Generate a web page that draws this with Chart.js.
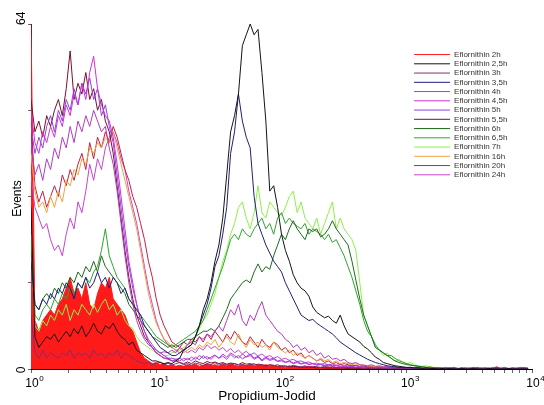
<!DOCTYPE html>
<html>
<head>
<meta charset="utf-8">
<script src="https://cdn.jsdelivr.net/npm/chart.js@4.4.0/dist/chart.umd.min.js"></script>
<style>
  html, body { margin: 0; padding: 0; background: #fff; }
  #wrap { position: relative; width: 544px; height: 405px; }
</style>
</head>
<body>
<div id="wrap"><canvas id="c" width="544" height="405"></canvas></div>
<script>
// Histogram channels (1024-channel log scale, 256 channels per decade), binned by 8
const channels = [
  0,8,16,24,32,40,48,56,64,72,80,88,96,104,112,120,
  128,136,144,152,160,168,176,184,192,200,208,216,224,232,240,248,
  256,264,272,280,288,296,304,312,320,328,336,344,352,360,368,376,
  384,392,400,408,416,424,432,440,448,456,464,472,480,488,496,504,
  512,520,528,536,544,552,560,568,576,584,592,600,608,616,624,632,
  640,648,656,664,672,680,688,696,704,712,720,728,736,744,752,760,
  768,776,784,792,800,808,816,824,832,840,848,856,864,872,880,888,
  896,904,912,920,928,936,944,952,960,968,976,984,992,1000,1008,1016
];
const channelsPerDecade = 256;
const decades = [0, 1, 2, 3, 4];
const yTickValues = [0, 16, 32, 48, 64];
const yLabelValues = [0, 64];
const xTitle = 'Propidium-Jodid';
const yTitle = 'Events';

const seriesNames = [
  'Eflornithin 2h', 'Eflornithin 2,5h', 'Eflornithin 3h', 'Eflornithin 3,5h',
  'Eflornithin 4h', 'Eflornithin 4,5h', 'Eflornithin 5h', 'Eflornithin 5,5h',
  'Eflornithin 6h', 'Eflornithin 6,5h', 'Eflornithin 7h', 'Eflornithin 16h',
  'Eflornithin 20h', 'Eflornithin 24h'
];

// Event counts per channel bin
const h2 = [
  64,9,7,9,10,11,10,12,13,15,17,14,15,13,16,12,
  11,14,16,15,17,13,12,11,10,8,7,5,3,2,1.5,1,
  1.2,0.8,1,0.6,0.8,0.5,0.7,0.5,0.8,0.6,0.9,0.5,0.7,1,0.6,0.8,
  0.5,0.9,0.6,1,0.7,0.5,0.8,0.6,0.9,0.5,0.7,0.6,0.8,0.5,0.6,0.4,
  0.5,0.3,0.6,0.4,0.5,0.3,0.4,0.5,0.3,0.4,0.2,0.3,0.4,0.2,0.3,0.2,
  0.3,0.2,0.2,0.3,0.2,0.2,0.3,0.2,0.2,0.2,0.3,0.2,0.2,0.2,0.2,0.2,
  0.2,0.3,0.2,0.2,0.1,0.2,0.4,0.2,0.1,0.2,0.1,0.2,0.3,0.1,0.2,0.1,
  0.2,0.1,0.3,0.1,0.2,0.1,0.2,0.4,0.1,0.2,0.1,0.2,0.1,0.3,0.1,0.2
];
const h2_5 = [
  30,6,4,5,6,5.5,6.5,5,6,7,6,7.5,6.5,8,6,7,
  8.5,7,6.5,8,7.5,8.5,7,6,5.5,4.5,5,3.5,3,2.5,2,1.5,
  1.5,1.2,1,1.2,1,1.5,2,3.5,4,4.5,6,8,11,13,16,20,
  23,28,36,44,47,51,60,62,64,62,63,55,46,33,34,30,
  25,22,20,17.5,16,15,14.5,13.5,11.5,10.5,10,9.5,9.8,9,8.5,10,
  8,6.5,6,5.5,5,4.2,3.7,3,2.2,1.8,1.2,1,0.8,0.6,0.5,0.4,
  0.3,0.3,0.2,0.2,0.1,0.2,0.1,0.1,0,0.1,0,0.1,0,0,0.1,0,
  0,0.1,0,0,0,0.1,0,0,0,0,0.1,0,0,0,0,0
];
const h3 = [
  10,3,2,3.5,2,3,2.5,2,3,2.5,3.5,2,3,2.5,3,2,
  3.5,2.5,3,2,3,2.5,3.5,2,3,2.5,2,1.5,1.2,1,1.2,0.8,
  1,1.3,0.8,1.1,0.7,1,1.2,0.8,1,0.7,1.1,0.9,0.6,1,0.8,1.2,
  0.7,1,0.8,0.6,1,0.7,0.9,0.6,0.8,1,0.6,0.8,0.5,0.7,0.6,0.8,
  0.5,0.6,0.4,0.7,0.5,0.4,0.6,0.3,0.5,0.4,0.3,0.5,0.3,0.4,0.3,0.2,
  0.2,0.3,0.2,0.2,0.2,0.1,0.2,0.2,0.1,0.2,0.1,0.1,0.2,0.1,0.1,0.1,
  0.1,0.2,0.1,0.1,0,0.1,0.1,0,0.1,0,0.1,0,0.2,0,0.1,0,
  0.1,0,0,0.1,0,0.2,0,0.1,0,0,0.1,0,0,0.1,0,0
];
const h3_5 = [
  20,12,11,13,12,14,13,15,14,16,15,13,16,15,17,15,
  16,18,16,17,15,17,16,14,15,13,12,11,10,8,7,6,
  5,4,3.5,3,2.5,2.5,3,3.5,4,4.5,6,8,10,12,15,19,
  21,25,30,40,44,51,46,43,41,32,27,25,23,21.5,20,19,
  18,16,14.5,13,11.5,10,9.5,9,9.2,8.5,8,7.5,7,6.5,5.8,5,
  4.5,4,3.5,3,2.6,2.2,1.8,1.5,1.2,1,0.8,0.6,0.5,0.4,0.3,0.3,
  0.2,0.2,0.1,0.2,0.1,0.1,0,0.1,0,0.1,0,0,0.1,0,0,0,
  0.1,0,0,0,0,0.1,0,0,0,0,0,0.1,0,0,0,0
];
const h4 = [
  42,36,38,35,39,37,41,39,43,41,45,42,46,44,47,45,
  48,46,44,45,41,38,33,27,21,16,12,9,7,5.5,4.5,4,
  3.5,3,3.2,3,3.5,3,4,3.5,4.5,5,4.5,6,5.5,6.5,6,7,
  8,7,9,11,10,12,9,8,10,9,11,12.5,10,9,8,7,
  6.5,5.5,5,4,4.5,3.5,4,3,3.5,2.5,3,2,2.5,1.8,2,1.5,
  1.8,1.2,1,1.2,0.8,0.7,0.6,0.8,0.5,0.6,0.4,0.5,0.3,0.4,0.3,0.3,
  0.2,0.3,0.2,0.1,0.2,0.1,0.3,0.1,0.1,0.2,0.1,0,0.2,0.1,0,0.1,
  0,0.2,0,0.1,0,0,0.3,0,0.1,0,0,0.2,0,0,0.1,0
];
const h4_5 = [
  48,42,40,44,42,45,43,47,45,49,47,51,49,53,50,55,
  58,52,49,47,46,43,38,32,26,20,16,12,9,7,5,4,
  3,2.5,2,1.8,1.5,1.8,1.5,2,1.7,2.2,1.8,2.5,2,2.3,1.8,2.5,
  2,2.8,2.2,3,2.5,2,2.8,2.2,2.5,1.8,2.2,1.5,2,1.6,1.8,1.4,
  1.5,1.2,1.4,1,1.2,0.9,1.1,0.8,1,0.7,0.8,0.6,0.7,0.5,0.6,0.4,
  0.4,0.3,0.4,0.3,0.3,0.2,0.3,0.2,0.2,0.3,0.2,0.1,0.2,0.2,0.1,0.2,
  0.1,0.2,0.1,0.1,0.2,0.1,0,0.1,0.2,0,0.1,0,0.1,0,0.2,0,
  0.1,0,0,0.2,0,0.1,0,0,0.1,0,0,0.2,0,0.1,0,0
];
const h5 = [
  45,40,43,41,45,47,44,48,46,50,48,52,49,53,51,54,
  50,52,47,49,45,42,36,30,24,19,15,12,9,7,5.5,4.5,
  3.5,3,2.5,2,2,1.8,2,1.5,2,1.5,2.2,1.7,2.5,1.8,2.2,2.6,
  2,2.4,1.8,2.7,2.1,2.5,1.9,2.3,2.8,2,2.4,1.7,2.2,1.8,2,1.5,
  1.7,1.3,1.5,1.1,1.4,1,1.2,0.9,1,0.8,0.9,0.7,0.8,0.6,0.7,0.5,
  0.5,0.4,0.5,0.3,0.4,0.3,0.4,0.2,0.3,0.3,0.2,0.3,0.2,0.2,0.3,0.1,
  0.2,0.1,0.3,0.1,0.1,0.2,0.1,0.1,0.3,0.1,0,0.2,0.1,0,0.2,0.1,
  0,0.1,0.3,0,0.1,0,0.2,0,0.1,0.3,0,0.1,0,0.2,0,0.1
];
const h5_5 = [
  50,44,46,43,47,45,48,50,47,52,59,50,53,51,55,50,
  52,48,50,46,44,40,34,28,22,17,13,10,8,6,5,4,
  3,2.5,2,2,1.5,1.5,1.2,1,1.3,1,1.5,1.2,1,1.4,1.1,1.3,
  1,1.2,0.9,1.1,1,0.8,1.2,0.9,1,0.7,0.9,0.8,0.6,0.8,0.7,0.5,
  0.6,0.5,0.4,0.5,0.4,0.3,0.4,0.3,0.3,0.2,0.3,0.2,0.2,0.2,0.2,0.2,
  0.2,0.1,0.2,0.1,0.1,0.2,0.1,0.1,0.1,0,0.1,0.1,0,0.1,0,0.1,
  0,0.1,0,0,0.1,0,0,0.1,0,0,0,0.1,0,0,0,0,
  0.1,0,0,0,0,0.1,0,0,0,0,0,0.1,0,0,0,0
];
const h6 = [
  22,12,11,13,14,13,15,14,16,15,17,16,18,17,19,18,
  20,18,21,19,18,17,16,15,14,12,11,10,9,8,7,6,
  5.5,5,4.5,4,4.5,4,4.5,5,5.5,5.5,6,6.5,7,7,7.5,7,
  8,9.5,11,13,14,15,16,16.5,16,18,19.5,18,19,18.5,21,23,
  25,24,26,27.5,26,25,24,26,25.5,26,24.5,25,26,27.5,26,25,
  24,23,20,16.5,13,10,8,6,4,3.5,3,2.5,2,1.5,1.2,1,
  0.8,0.7,0.6,0.5,0.4,0.3,0.3,0.2,0.2,0.1,0.2,0.1,0.1,0,0.1,0,
  0.1,0,0,0.1,0,0,0,0.1,0,0,0,0,0.1,0,0,0
];
const h6_5 = [
  24,10,9,11,12,11,13,12,14,13,15,14,16,15,17,16,
  18,19,22,26,21,19,17,16,15,13,12,11,10,9,8,7,
  6,5.5,5,4.5,4,4.5,5,5.5,6,6.5,7,8,9,11,13,15,
  17,19,21.5,24,25,24,26,25,24.5,26,27,28,26,27,25,28,
  29,27,28,27,26.5,26,27,25,26,25.5,25,24,25,23.5,24,22.5,
  21,19,17,14.5,12,9,7,6,4.5,3.5,3,2.5,2.5,2,1.5,1.3,
  1,0.8,0.6,0.5,0.4,0.3,0.3,0.2,0.2,0.1,0.2,0.1,0,0.1,0,0.1,
  0,0,0.1,0,0,0,0.1,0,0,0,0,0.1,0,0,0,0
];
const h7 = [
  25,8,7,9,8,10,9,11,10,12,9,11,10,12,11,10,
  12,10.5,12,13,11,12,10,11,9,8,7.5,6,5,4.5,4,3.5,
  3,3,2.5,2.5,3,3.2,3.5,4,4.5,5,6,7.5,9,10,12,14,
  17,20,22,25,27,30,31,28,26,29,34,29,28,31,30,29,
  28.5,30,32,33,29,31,28,27,26,28,25,27,29,31,26,28,
  26,25,24,22,16,10,8,6,4,3.5,2.5,3,2,1.5,1.8,1.2,
  1,1.2,0.8,0.6,0.5,0.6,0.4,0.3,0.3,0.2,0.3,0.1,0.2,0.1,0.1,0,
  0.1,0,0.1,0,0,0.1,0,0,0,0.1,0,0,0,0,0.1,0
];
const h16 = [
  40,33,30,31,29,32,30,33,31,35,34,37,36,39,38,41,
  40,42,41,43,42,44,41,38,35,32,29,26,22,18,14,11,
  8.5,7,5.5,5,4,3.5,3.8,3,3.5,4,3.5,4.5,4,5,4.5,5.5,
  4,5,6,5,4.5,6.5,5,4,5.5,4.5,5,4,4.5,3.5,5,4,
  3.5,3,3.5,2.5,3,2.5,2,2.5,2,1.5,2,1.5,1.8,1.2,1.5,1,
  1.2,1,0.8,1,0.7,0.8,0.5,0.6,0.4,0.5,0.4,0.3,0.4,0.3,0.3,0.2,
  0.2,0.1,0.2,0.1,0.1,0.2,0,0.1,0,0.1,0,0,0.1,0,0,0.1,
  0,0,0,0.1,0,0,0,0,0.1,0,0,0,0,0,0.1,0
];
const h20 = [
  45,34,31,33,30,32,34,32,36,34,37,35,38,40,37,42,
  39,43,41,44,42,45,43,40,37,35,32,30,27,24,20,17,
  13,10,8,6.5,5,4.5,4,5,4.5,5.5,5,6,5,6.5,5.5,7,
  6,5,6.5,5.5,7,6,5,4.5,6,5,4,5.5,4.5,4,5,4.5,
  3.5,4,3,3.5,2.5,3,2,2.5,2,1.5,1.8,1.2,1.5,1,1.2,0.8,
  1,0.8,0.6,0.7,0.5,0.6,0.4,0.5,0.3,0.4,0.3,0.3,0.2,0.3,0.2,0.2,
  0.2,0.3,0.1,0.2,0.1,0.3,0.1,0.2,0.1,0.1,0.3,0.1,0.2,0.1,0.1,0.2,
  0.1,0.3,0.1,0.1,0.2,0.1,0.1,0.3,0.1,0.2,0.1,0.1,0.2,0.1,0.3,0.1
];
const h24 = [
  36,30,28,26,27,24,22,23,21,25,28,26,31,29,33,38,
  35,39,37,41,43,44,42,39,37,33,30,27,23,19,15,12,
  9,7,5.5,4.5,4,3.5,3,3.5,3,3.5,3,4,3.5,4.5,3.8,4.2,
  3.5,4,3.2,3.8,3,3.5,2.8,3.3,2.6,3,2.4,2.8,2.2,2.5,2,2.3,
  1.8,2,1.6,1.8,1.4,1.5,1.2,1.3,1,1.1,0.9,1,0.8,0.9,0.7,0.8,
  0.6,0.7,0.5,0.6,0.4,0.5,0.4,0.3,0.4,0.3,0.3,0.2,0.3,0.2,0.2,0.2,
  0.1,0.2,0.1,0.1,0.2,0,0.1,0.2,0,0.1,0,0.2,0,0.1,0,0.2,
  0,0.1,0,0.2,0,0,0.1,0,0.2,0,0.1,0,0,0.2,0,0.1
];

const seriesValues = [h2, h2_5, h3, h3_5, h4, h4_5, h5, h5_5, h6, h6_5, h7, h16, h20, h24];
const seriesColors = [
  '#ff1a1a', '#141414', '#7e2c80', '#1f1f78', '#b23cbf', '#d22fd2', '#8a44ea',
  '#7c1028', '#1e6a1e', '#2fa32f', '#8cf04a', '#f2a040', '#c42040', '#c844c8'
];

const FONT = "'Liberation Sans', Arial, sans-serif";

const datasets = seriesNames.map((name, i) => ({
  label: name,
  data: seriesValues[i],
  borderColor: seriesColors[i],
  backgroundColor: seriesColors[i],
  borderWidth: 1,
  pointRadius: 0,
  tension: 0,
  fill: i === 0 ? 'origin' : false,
  order: i === 0 ? 1 : 0
}));

// Log-decade tick marks, expressed in channel units
const logTicks = [];
decades.slice(0, -1).forEach(d => {
  for (let k = 1; k < 10; k++) logTicks.push(channelsPerDecade * (d + Math.log10(k)));
});
logTicks.push(channelsPerDecade * decades[decades.length - 1]);

// Place the legend inside the plot, near the upper right corner
const legendSpot = {
  id: 'legendSpot',
  afterLayout(chart) {
    const lg = chart.legend;
    if (!lg) return;
    const w = lg.width, h = lg.height;
    lg.left = 412.8;
    lg.top = 49.3;
    lg.right = lg.left + w;
    lg.bottom = lg.top + h;
  }
};

// Axis labels: decade labels with superscript exponents, rotated y labels, titles
const axisText = {
  id: 'axisText',
  afterDraw(chart) {
    const { ctx, scales: { x, y } } = chart;
    ctx.save();
    ctx.fillStyle = '#000';
    ctx.textBaseline = 'alphabetic';

    decades.forEach(d => {
      const px = x.getPixelForValue(channelsPerDecade * d);
      ctx.font = '12px ' + FONT;
      const wb = ctx.measureText('10').width;
      ctx.font = '8px ' + FONT;
      const ws = ctx.measureText(String(d)).width;
      const left = px + 3.5 - (wb + ws + 0.5) / 2;
      ctx.textAlign = 'left';
      ctx.font = '12px ' + FONT;
      ctx.fillText('10', left, 387);
      ctx.font = '8px ' + FONT;
      ctx.fillText(String(d), left + wb + 0.5, 381);
    });

    ctx.font = '13.5px ' + FONT;
    ctx.textAlign = 'center';
    ctx.fillText(xTitle, 267, 400);

    ctx.font = '12px ' + FONT;
    yLabelValues.forEach(v => {
      const py = y.getPixelForValue(v) + 1;
      ctx.save();
      ctx.translate(25, py);
      ctx.rotate(-Math.PI / 2);
      ctx.textAlign = v === yLabelValues[yLabelValues.length - 1] ? 'left' : 'center';
      ctx.fillText(String(v), 0, 0);
      ctx.restore();
    });

    ctx.save();
    ctx.translate(20.5, 198.5);
    ctx.rotate(-Math.PI / 2);
    ctx.textAlign = 'center';
    ctx.font = '12px ' + FONT;
    ctx.fillText(yTitle, 0, 0);
    ctx.restore();

    ctx.restore();
  }
};

new Chart(document.getElementById('c'), {
  type: 'line',
  data: { labels: channels, datasets },
  plugins: [legendSpot, axisText],
  options: {
    responsive: false,
    animation: false,
    events: [],
    layout: { padding: { top: 24, right: 12, left: 0, bottom: 0 } },
    plugins: {
      tooltip: { enabled: false },
      legend: {
        position: 'chartArea',
        align: 'start',
        labels: {
          usePointStyle: true,
          pointStyle: 'line',
          pointStyleWidth: 36,
          boxHeight: 8,
          padding: 1.25,
          color: '#333',
          font: { family: FONT, size: 8 },
          sort: (a, b) => a.datasetIndex - b.datasetIndex
        }
      }
    },
    scales: {
      x: {
        type: 'linear',
        min: 0,
        max: channelsPerDecade * decades[decades.length - 1],
        afterBuildTicks: s => { s.ticks = logTicks.map(v => ({ value: v })); },
        afterFit: s => { s.height = 36; },
        ticks: { display: false },
        grid: { display: true, drawOnChartArea: false, drawTicks: true, tickLength: 4, color: '#666' },
        border: { display: true, color: '#000', width: 1 }
      },
      y: {
        type: 'linear',
        min: 0,
        max: 64,
        afterBuildTicks: s => { s.ticks = yTickValues.map(v => ({ value: v })); },
        afterFit: s => { s.width = 31; },
        ticks: { display: false },
        grid: { display: true, drawOnChartArea: false, drawTicks: true, tickLength: 3, color: '#666' },
        border: { display: true, color: '#000', width: 1 }
      }
    }
  }
});
</script>
</body>
</html>
